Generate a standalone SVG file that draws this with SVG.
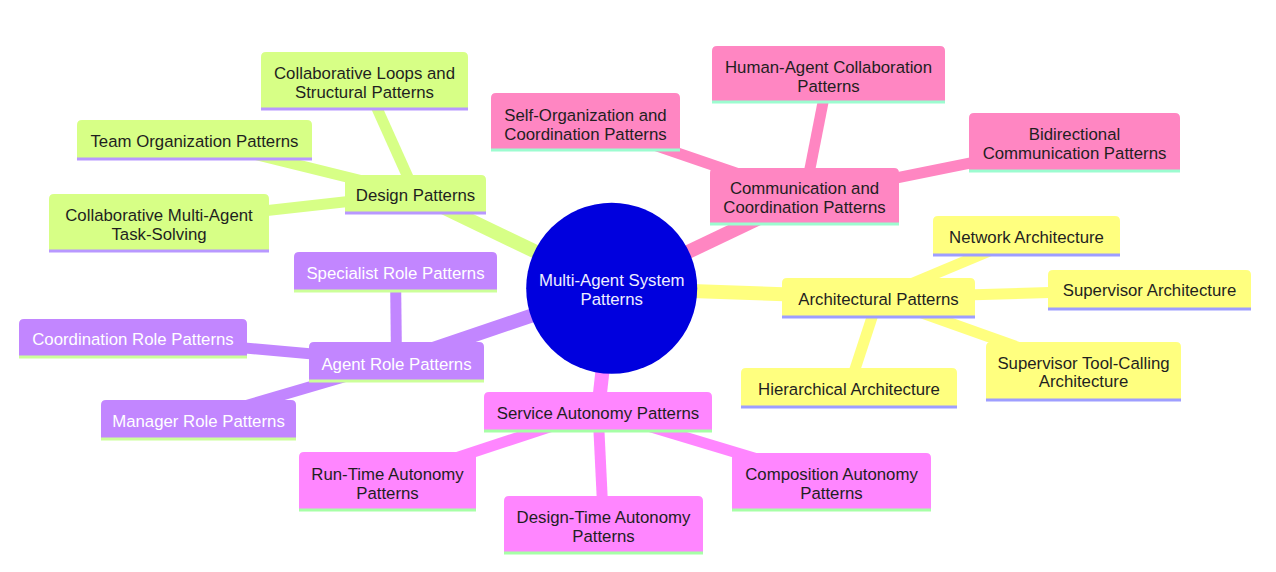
<svg xmlns="http://www.w3.org/2000/svg" width="1276" height="572" viewBox="0 0 1276 572">
<style>
text { font-family: "Liberation Sans", Arial, sans-serif; font-size: 16.8px; text-anchor: middle; fill: #1f1f1f; }
#connectors line { fill: none; stroke-linecap: butt; }
.d0 { stroke-width: 14; }
.d1 { stroke-width: 11; }
.ed { stroke: #D7FF86; }
.ec { stroke: #FF86C2; }
.ea { stroke: #FFFF7F; }
.er { stroke: #C286FF; }
.es { stroke: #FF86FF; }
.node line { stroke-width: 3; }
.sd path { fill: #D7FF86; } .sd line { stroke: #B898FF; }
.sc path { fill: #FF86C2; } .sc line { stroke: #9CFCD0; }
.sa path { fill: #FFFF7F; } .sa line { stroke: #9E9EFF; }
.sr path { fill: #C286FF; } .sr line { stroke: #CCFF99; } .sr text { fill: #ffffff; }
.ss path { fill: #FF86FF; } .ss line { stroke: #A6FFA6; }
.root circle { fill: #0000DE; }
.root text { fill: #EEEEFF; }
</style>

<g id="connectors">
  <!-- root edges -->
  <line class="d0 ed" x1="611.7" y1="288.3" x2="415.5" y2="194"/>
  <line class="d0 ec" x1="611.7" y1="288.3" x2="804.5" y2="196.5"/>
  <line class="d0 ea" x1="611.7" y1="288.3" x2="878.5" y2="297.5"/>
  <line class="d0 er" x1="611.7" y1="288.3" x2="396.5" y2="361.5"/>
  <line class="d0 es" x1="611.7" y1="288.3" x2="598" y2="411"/>
  <!-- design -->
  <line class="d1 ed" x1="415.5" y1="194" x2="364.5" y2="80.5"/>
  <line class="d1 ed" x1="415.5" y1="194" x2="194.5" y2="139.5"/>
  <line class="d1 ed" x1="415.5" y1="194" x2="159" y2="222.5"/>
  <!-- communication -->
  <line class="d1 ec" x1="804.5" y1="196.5" x2="585.5" y2="121.5"/>
  <line class="d1 ec" x1="804.5" y1="196.5" x2="828.5" y2="74.5"/>
  <line class="d1 ec" x1="804.5" y1="196.5" x2="1074.5" y2="142"/>
  <!-- architectural -->
  <line class="d1 ea" x1="878.5" y1="297.5" x2="1026.5" y2="235.5"/>
  <line class="d1 ea" x1="878.5" y1="297.5" x2="1149.5" y2="289.5"/>
  <line class="d1 ea" x1="878.5" y1="297.5" x2="1083.5" y2="370.5"/>
  <line class="d1 ea" x1="878.5" y1="297.5" x2="849" y2="387.5"/>
  <!-- agent role -->
  <line class="d1 er" x1="396.5" y1="361.5" x2="395.5" y2="271.5"/>
  <line class="d1 er" x1="396.5" y1="361.5" x2="133" y2="338"/>
  <line class="d1 er" x1="396.5" y1="361.5" x2="198.5" y2="419.5"/>
  <!-- service autonomy -->
  <line class="d1 es" x1="598" y1="411" x2="387.5" y2="480.5"/>
  <line class="d1 es" x1="598" y1="411" x2="603.5" y2="524.5"/>
  <line class="d1 es" x1="598" y1="411" x2="831.5" y2="481.5"/>
</g>

<!-- Design Patterns section -->
<g id="design-patterns" class="node sd" transform="translate(345,175)">
  <path d="M0,38 V5 Q0,0 5,0 H136 Q141,0 141,5 V38 Z"/>
  <line x1="0" y1="38" x2="141" y2="38"/>
  <text x="70.5" y="26">Design Patterns</text>
</g>
<g id="collab-loops" class="node sd" transform="translate(261,52)">
  <path d="M0,57 V5 Q0,0 5,0 H202 Q207,0 207,5 V57 Z"/>
  <line x1="0" y1="57" x2="207" y2="57"/>
  <text x="103.5" y="26.5">Collaborative Loops and</text>
  <text x="103.5" y="45.5">Structural Patterns</text>
</g>
<g id="team-org" class="node sd" transform="translate(77,120)">
  <path d="M0,39 V5 Q0,0 5,0 H230 Q235,0 235,5 V39 Z"/>
  <line x1="0" y1="39" x2="235" y2="39"/>
  <text x="117.5" y="27">Team Organization Patterns</text>
</g>
<g id="collab-multi" class="node sd" transform="translate(49,194)">
  <path d="M0,57 V5 Q0,0 5,0 H215 Q220,0 220,5 V57 Z"/>
  <line x1="0" y1="57" x2="220" y2="57"/>
  <text x="110" y="27">Collaborative Multi-Agent</text>
  <text x="110" y="46">Task-Solving</text>
</g>

<!-- Communication section -->
<g id="comm-coord" class="node sc" transform="translate(710,168)">
  <path d="M0,56 V5 Q0,0 5,0 H184 Q189,0 189,5 V56 Z"/>
  <line x1="0" y1="56" x2="189" y2="56"/>
  <text x="94.5" y="26">Communication and</text>
  <text x="94.5" y="45">Coordination Patterns</text>
</g>
<g id="self-org" class="node sc" transform="translate(491,93)">
  <path d="M0,57 V5 Q0,0 5,0 H184 Q189,0 189,5 V57 Z"/>
  <line x1="0" y1="57" x2="189" y2="57"/>
  <text x="94.5" y="27.5">Self-Organization and</text>
  <text x="94.5" y="46.5">Coordination Patterns</text>
</g>
<g id="human-agent" class="node sc" transform="translate(712,46)">
  <path d="M0,56 V5 Q0,0 5,0 H228 Q233,0 233,5 V56 Z"/>
  <line x1="0" y1="56" x2="233" y2="56"/>
  <text x="116.5" y="26.5">Human-Agent Collaboration</text>
  <text x="116.5" y="45.5">Patterns</text>
</g>
<g id="bidirectional" class="node sc" transform="translate(969,113)">
  <path d="M0,58 V5 Q0,0 5,0 H206 Q211,0 211,5 V58 Z"/>
  <line x1="0" y1="58" x2="211" y2="58"/>
  <text x="105.5" y="27">Bidirectional</text>
  <text x="105.5" y="46">Communication Patterns</text>
</g>

<!-- Architectural section -->
<g id="architectural" class="node sa" transform="translate(782,278)">
  <path d="M0,39 V5 Q0,0 5,0 H188 Q193,0 193,5 V39 Z"/>
  <line x1="0" y1="39" x2="193" y2="39"/>
  <text x="96.5" y="27">Architectural Patterns</text>
</g>
<g id="network" class="node sa" transform="translate(933,216)">
  <path d="M0,39 V5 Q0,0 5,0 H182 Q187,0 187,5 V39 Z"/>
  <line x1="0" y1="39" x2="187" y2="39"/>
  <text x="93.5" y="26.5">Network Architecture</text>
</g>
<g id="supervisor" class="node sa" transform="translate(1048,270)">
  <path d="M0,39 V5 Q0,0 5,0 H198 Q203,0 203,5 V39 Z"/>
  <line x1="0" y1="39" x2="203" y2="39"/>
  <text x="101.5" y="26">Supervisor Architecture</text>
</g>
<g id="supervisor-tool" class="node sa" transform="translate(986,342)">
  <path d="M0,58 V5 Q0,0 5,0 H190 Q195,0 195,5 V58 Z"/>
  <line x1="0" y1="58" x2="195" y2="58"/>
  <text x="97.5" y="26.5">Supervisor Tool-Calling</text>
  <text x="97.5" y="45">Architecture</text>
</g>
<g id="hierarchical" class="node sa" transform="translate(741,368)">
  <path d="M0,39 V5 Q0,0 5,0 H211 Q216,0 216,5 V39 Z"/>
  <line x1="0" y1="39" x2="216" y2="39"/>
  <text x="108" y="27">Hierarchical Architecture</text>
</g>

<!-- Agent Role section -->
<g id="agent-role" class="node sr" transform="translate(309,342)">
  <path d="M0,39 V5 Q0,0 5,0 H170 Q175,0 175,5 V39 Z"/>
  <line x1="0" y1="39" x2="175" y2="39"/>
  <text x="87.5" y="27.5">Agent Role Patterns</text>
</g>
<g id="specialist" class="node sr" transform="translate(294,252)">
  <path d="M0,39 V5 Q0,0 5,0 H198 Q203,0 203,5 V39 Z"/>
  <line x1="0" y1="39" x2="203" y2="39"/>
  <text x="101.5" y="26.5">Specialist Role Patterns</text>
</g>
<g id="coordination-role" class="node sr" transform="translate(19,319)">
  <path d="M0,38 V5 Q0,0 5,0 H223 Q228,0 228,5 V38 Z"/>
  <line x1="0" y1="38" x2="228" y2="38"/>
  <text x="114" y="26">Coordination Role Patterns</text>
</g>
<g id="manager-role" class="node sr" transform="translate(101,400)">
  <path d="M0,39 V5 Q0,0 5,0 H190 Q195,0 195,5 V39 Z"/>
  <line x1="0" y1="39" x2="195" y2="39"/>
  <text x="97.5" y="27">Manager Role Patterns</text>
</g>

<!-- Service Autonomy section -->
<g id="service-autonomy" class="node ss" transform="translate(484,392)">
  <path d="M0,39 V5 Q0,0 5,0 H223 Q228,0 228,5 V39 Z"/>
  <line x1="0" y1="39" x2="228" y2="39"/>
  <text x="114" y="26.5">Service Autonomy Patterns</text>
</g>
<g id="run-time" class="node ss" transform="translate(299,452)">
  <path d="M0,58 V5 Q0,0 5,0 H172 Q177,0 177,5 V58 Z"/>
  <line x1="0" y1="58" x2="177" y2="58"/>
  <text x="88.5" y="28">Run-Time Autonomy</text>
  <text x="88.5" y="47">Patterns</text>
</g>
<g id="design-time" class="node ss" transform="translate(504,496)">
  <path d="M0,57 V5 Q0,0 5,0 H194 Q199,0 199,5 V57 Z"/>
  <line x1="0" y1="57" x2="199" y2="57"/>
  <text x="99.5" y="26.5">Design-Time Autonomy</text>
  <text x="99.5" y="45.5">Patterns</text>
</g>
<g id="composition" class="node ss" transform="translate(732,453)">
  <path d="M0,57 V5 Q0,0 5,0 H194 Q199,0 199,5 V57 Z"/>
  <line x1="0" y1="57" x2="199" y2="57"/>
  <text x="99.5" y="27">Composition Autonomy</text>
  <text x="99.5" y="46">Patterns</text>
</g>

<!-- Root -->
<g id="root" class="root">
  <circle cx="611.7" cy="288.3" r="85.5"/>
  <text x="611.7" y="286">Multi-Agent System</text>
  <text x="611.7" y="305">Patterns</text>
</g>
</svg>
